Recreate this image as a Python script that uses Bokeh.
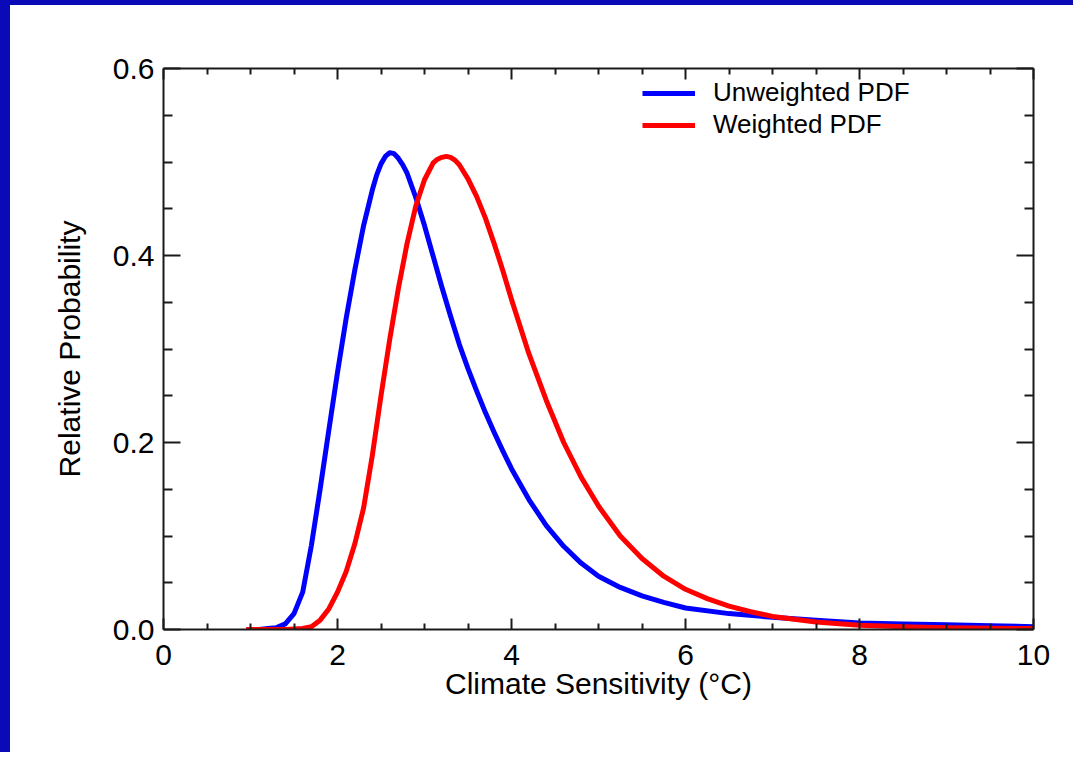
from bokeh.plotting import figure
from bokeh.layouts import column, row
from bokeh.models import (Range1d, LinearAxis, FixedTicker, PrintfTickFormatter,
                          CustomJSTickFormatter, Legend, LegendItem, Spacer)
from bokeh.embed import file_html
from bokeh.resources import INLINE

# ---- data ----
x_unweighted = [1.0, 1.1, 1.2, 1.3, 1.4, 1.5, 1.6, 1.7, 1.8, 1.9, 2.0, 2.1, 2.2, 2.3, 2.4,
                2.45, 2.5, 2.55, 2.6, 2.65, 2.7, 2.75, 2.8, 2.9, 3.0, 3.1, 3.2, 3.3, 3.4,
                3.5, 3.6, 3.7, 3.8, 3.9, 4.0, 4.2, 4.4, 4.6, 4.8, 5.0, 5.25, 5.5, 5.75,
                6.0, 6.5, 7.0, 7.5, 8.0, 8.5, 9.0, 9.5, 10.0]
y_unweighted = [0.000, 0.000, 0.001, 0.002, 0.006, 0.017, 0.040, 0.090, 0.150, 0.213, 0.275,
                0.333, 0.385, 0.432, 0.470, 0.486, 0.498, 0.506, 0.510, 0.509, 0.504, 0.497,
                0.488, 0.462, 0.432, 0.399, 0.366, 0.335, 0.305, 0.279, 0.255, 0.232, 0.211,
                0.191, 0.172, 0.139, 0.111, 0.089, 0.071, 0.057, 0.045, 0.036, 0.029, 0.023,
                0.017, 0.013, 0.010, 0.007, 0.006, 0.005, 0.004, 0.003]

x_weighted = [0.95, 1.2, 1.4, 1.6, 1.7, 1.8, 1.9, 2.0, 2.1, 2.2, 2.3, 2.4, 2.5, 2.6, 2.7,
              2.8, 2.9, 3.0, 3.1, 3.15, 3.2, 3.25, 3.3, 3.35, 3.4, 3.5, 3.6, 3.7, 3.8, 3.9,
              4.0, 4.2, 4.4, 4.6, 4.8, 5.0, 5.25, 5.5, 5.75, 6.0, 6.25, 6.5, 6.75, 7.0,
              7.25, 7.5, 8.0, 8.5, 9.0, 10.0]
y_weighted = [0.000, 0.000, 0.000, 0.001, 0.003, 0.010, 0.022, 0.040, 0.062, 0.092, 0.130,
              0.186, 0.250, 0.310, 0.365, 0.413, 0.453, 0.481, 0.499, 0.503, 0.505, 0.506,
              0.505, 0.502, 0.497, 0.482, 0.463, 0.440, 0.413, 0.384, 0.353, 0.295, 0.245,
              0.200, 0.163, 0.132, 0.100, 0.076, 0.057, 0.043, 0.033, 0.025, 0.019, 0.014,
              0.011, 0.008, 0.0045, 0.003, 0.002, 0.001]

x_ticks = [0, 2, 4, 6, 8, 10]
x_minor = [0.5, 1, 1.5, 2.5, 3, 3.5, 4.5, 5, 5.5, 6.5, 7, 7.5, 8.5, 9, 9.5]
y_ticks = [0.0, 0.2, 0.4, 0.6]
y_minor = [0.05, 0.1, 0.15, 0.25, 0.3, 0.35, 0.45, 0.5, 0.55]

series_labels = ["Unweighted PDF", "Weighted PDF"]
x_label = "Climate Sensitivity (°C)"
y_label = "Relative Probability"

FONT = "Liberation Sans"
AX = "#1a1a1a"
BORDER_BLUE = "#0A0AB8"

fig = figure(width=1063, height=747, output_backend="svg", toolbar_location=None,
             x_range=Range1d(0, 10), y_range=Range1d(0, 0.6),
             min_border_left=153, min_border_right=40, min_border_top=63,
             min_border_bottom=123, x_axis_location=None, y_axis_location=None)
fig.xgrid.visible = False
fig.ygrid.visible = False
fig.outline_line_color = None
fig.background_fill_color = "white"
fig.border_fill_color = "white"

empty = CustomJSTickFormatter(code="return ''")


def style_axis(ax, major_in, minor_in, labels=True):
    ax.axis_line_color = AX
    ax.axis_line_width = 2
    ax.major_tick_line_color = AX
    ax.minor_tick_line_color = AX
    ax.major_tick_line_width = 2
    ax.minor_tick_line_width = 2
    ax.major_tick_in = major_in
    ax.major_tick_out = 0
    ax.minor_tick_in = minor_in
    ax.minor_tick_out = 0
    ax.major_label_text_font = FONT
    ax.major_label_text_font_size = "30px"
    ax.major_label_text_color = "black"
    ax.axis_label_text_font = FONT
    ax.axis_label_text_font_size = "30px"
    ax.axis_label_text_font_style = "normal"
    ax.axis_label_text_color = "black"
    if not labels:
        ax.formatter = empty
        ax.major_label_text_font_size = "11px"


xt = FixedTicker(ticks=x_ticks, minor_ticks=x_minor)
yt = FixedTicker(ticks=y_ticks, minor_ticks=y_minor)

xb = LinearAxis(ticker=xt, formatter=PrintfTickFormatter(format="%d"), axis_label=x_label)
style_axis(xb, 11, 6)
xb.major_label_standoff = 15
xb.axis_label_standoff = -1
fig.add_layout(xb, "below")

xa = LinearAxis(ticker=xt)
style_axis(xa, 11, 6, labels=False)
fig.add_layout(xa, "above")

yl = LinearAxis(ticker=yt, formatter=PrintfTickFormatter(format="%.1f"), axis_label=y_label)
style_axis(yl, 17, 9)
yl.major_label_standoff = 9
yl.axis_label_standoff = 24
fig.add_layout(yl, "left")

yr = LinearAxis(ticker=yt)
style_axis(yr, 17, 9, labels=False)
fig.add_layout(yr, "right")

r1 = fig.line(x_unweighted, y_unweighted, line_color="#0000FF", line_width=5,
              line_join="round")
r2 = fig.line(x_weighted, y_weighted, line_color="#FF0000", line_width=5,
              line_join="round")


def make_legend(label, renderer, loc):
    return Legend(items=[LegendItem(label=label, renderers=[renderer])],
                  location=loc, padding=0, margin=0, spacing=0,
                  glyph_width=53, glyph_height=26, label_height=26, label_standoff=18,
                  label_text_font=FONT, label_text_font_size="26px",
                  label_text_color="black", border_line_color=None,
                  background_fill_alpha=0)


fig.add_layout(make_legend(series_labels[0], r1, (479, 521)), "center")
fig.add_layout(make_legend(series_labels[1], r2, (479, 489)), "center")

# blue slide border (top and left edges)
top_strip = Spacer(width=1073, height=5, styles={"background-color": BORDER_BLUE})
left_strip = Spacer(width=10, height=747, styles={"background-color": BORDER_BLUE})
p = column(top_strip, row(left_strip, fig, spacing=0), spacing=0)

open("out.html", "w").write(file_html(p, INLINE))
